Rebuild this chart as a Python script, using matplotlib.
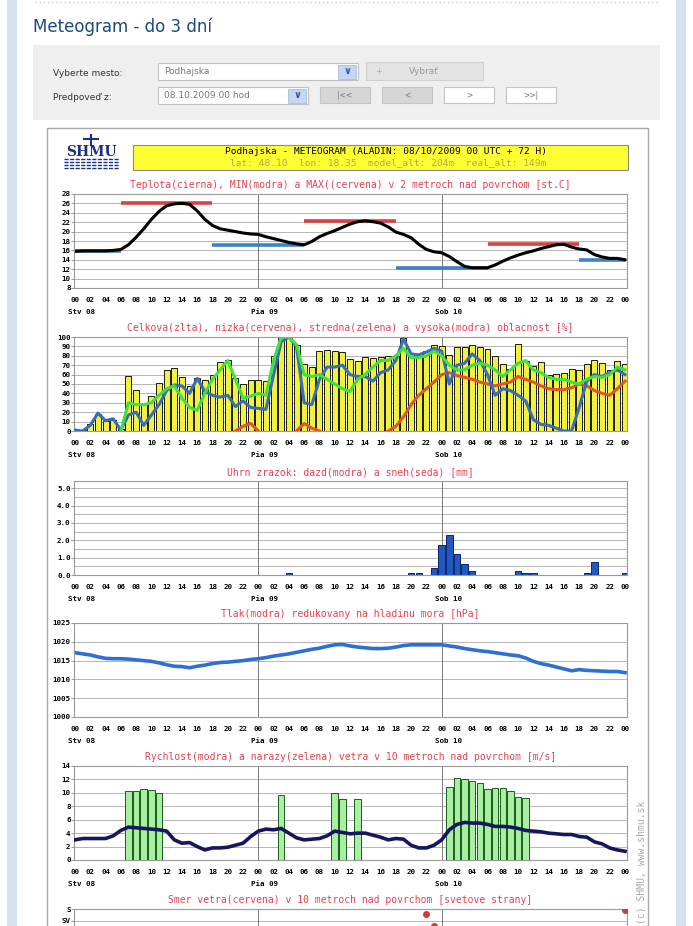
import matplotlib
matplotlib.use('Agg')
import matplotlib.pyplot as plt
import matplotlib.transforms as mtransforms
from matplotlib.patches import Rectangle

W, H = 693, 926
MONO = 'DejaVu Sans Mono'

# ---- data ----
hours = list(range(73))
tick_hours = list(range(0, 73, 2))
tick_labels = ['%02d' % (h % 24) for h in tick_hours]
day_hours = [0, 24, 48]
day_labels = ['Stv 08', 'Pia 09', 'Sob 10']

temp = [15.8, 15.9, 15.9, 15.9, 15.9, 16.0, 16.2, 17.2, 18.8, 20.6,
        22.6, 24.3, 25.5, 25.9, 26.0, 25.8, 24.4, 22.6, 21.3, 20.6,
        20.3, 20.0, 19.7, 19.5, 19.4, 18.9, 18.5, 18.1, 17.7, 17.4,
        17.2, 17.9, 18.9, 19.6, 20.2, 20.9, 21.6, 22.1, 22.3, 22.1,
        21.8, 21.0, 19.9, 19.4, 18.7, 17.3, 16.2, 15.7, 15.5, 14.7,
        13.6, 12.6, 12.3, 12.3, 12.3, 12.9, 13.7, 14.4, 15.0, 15.5,
        15.9, 16.4, 16.8, 17.2, 17.3, 16.7, 16.3, 16.1, 15.1, 14.6,
        14.3, 14.3, 14.0]
ext_start = [0, 6, 18, 30, 42, 54, 66]
ext_end = [6, 18, 30, 42, 54, 66, 72]
ext_value = [15.8, 26.0, 17.2, 22.3, 12.2, 17.4, 14.0]
ext_kind = ['min', 'max', 'min', 'max', 'min', 'max', 'min']

cloud_total = [1, 1, 7, 18, 11, 12, 2, 59, 44, 29, 37, 51, 65, 67, 57, 48, 56, 54, 60, 73,
               76, 56, 50, 54, 54, 53, 80, 100, 100, 91, 71, 68, 85, 86, 85, 84, 77, 74, 79, 78,
               79, 80, 80, 99, 82, 82, 85, 91, 90, 81, 89, 89, 91, 89, 87, 80, 71, 66, 93, 75,
               69, 73, 60, 61, 62, 66, 65, 71, 76, 72, 65, 74, 71]
N = None
cloud_low = [N] * 21 + [0, 5, 8, 0] + [N] * 4 + [0, 8, 3, 0] + [N] * 8 + \
            [0, 5, 15, 28, 38, 45, 52, 60, 62, 59, 57, 55, 52, 50, 48, 50, 52, 58, 55, 52,
             48, 45, 44, 44, 46, 50, 48, 43, 40, 38, 45, 53]
cloud_mid = [N] * 6 + [0, 30, 28, 28, 30, 38, 45, 48, 35, 25, 22, 40, 55, 65, 75, 55, 35, 37,
                       40, 38, 75, 100, 100, 92, 60, 58, 60, 55, 50, 45, 42, 55, 60, 68, 75, 75,
                       80, 88, 78, 78, 80, 85, 80, 70, 65, 65, 70, 72, 70, 65, 58, 65, 72, 75,
                       65, 62, 57, 55, 55, 52, 50, 55, 58, 57, 60, 68, 65]
cloud_high = [1, 0, 6, 19, 11, 13, 1, 17, 20, 6, 17, 28, 43, 49, 48, 40, 56, 42, 38, 36,
              38, 26, 32, 25, 24, 23, 60, 95, 100, 90, 30, 28, 55, 68, 68, 70, 60, 58, 58, 53,
              62, 65, 75, 98, 82, 81, 84, 88, 85, 50, 70, 72, 82, 75, 60, 38, 45, 43, 38, 32,
              12, 7, 6, 3, 0, 0, 25, 53, 60, 58, 62, 65, 60]

rain_hours = [28, 44, 45, 47, 48, 49, 50, 51, 52, 58, 59, 60, 67, 68, 72]
rain_mm = [0.12, 0.12, 0.12, 0.42, 1.74, 2.32, 1.22, 0.64, 0.25, 0.25, 0.13, 0.13, 0.13, 0.77, 0.13]

pressure = [1017.1, 1016.8, 1016.5, 1016.0, 1015.6, 1015.5, 1015.5, 1015.4, 1015.2, 1015.0,
            1014.8, 1014.4, 1013.9, 1013.5, 1013.4, 1013.1, 1013.5, 1013.8, 1014.2, 1014.5,
            1014.6, 1014.8, 1015.0, 1015.3, 1015.5, 1015.8, 1016.2, 1016.5, 1016.8, 1017.2,
            1017.6, 1018.0, 1018.3, 1018.8, 1019.2, 1019.3, 1018.9, 1018.6, 1018.4, 1018.2,
            1018.2, 1018.3, 1018.6, 1019.0, 1019.2, 1019.2, 1019.2, 1019.2, 1019.2, 1018.9,
            1018.6, 1018.2, 1017.9, 1017.6, 1017.4, 1017.1, 1016.8, 1016.5, 1016.3, 1015.7,
            1014.8, 1014.2, 1013.8, 1013.3, 1012.8, 1012.3, 1012.6, 1012.4, 1012.3, 1012.2,
            1012.1, 1012.1, 1011.8]

wind = [3.0, 3.2, 3.2, 3.2, 3.2, 3.6, 4.4, 4.9, 4.8, 4.7, 4.6, 4.5, 4.3, 3.0, 2.5, 2.6,
        2.0, 1.5, 1.8, 1.8, 1.9, 2.2, 2.5, 3.5, 4.3, 4.6, 4.5, 4.7, 4.0, 3.3, 3.0, 3.1,
        3.2, 3.6, 4.3, 4.1, 3.9, 4.0, 4.0, 3.7, 3.4, 3.0, 3.2, 3.1, 2.2, 1.8, 1.8, 2.2,
        3.0, 4.5, 5.3, 5.6, 5.5, 5.5, 5.3, 5.0, 5.0, 4.9, 4.7, 4.4, 4.3, 4.2, 4.0, 3.9,
        3.8, 3.8, 3.5, 3.4, 2.7, 2.4, 1.8, 1.5, 1.3]
gust_hours = [7, 8, 9, 10, 11, 27, 34, 35, 37, 49, 50, 51, 52, 53, 54, 55, 56, 57, 58, 59]
gust = [10.3, 10.3, 10.6, 10.5, 10.0, 9.7, 10.0, 9.1, 9.1, 10.9,
        12.2, 12.0, 11.8, 11.5, 10.6, 10.7, 10.7, 10.3, 9.4, 9.2]

dir_hours = [46, 47, 71, 72]
dir_deg = [20, 65, 78, 5]
dir_grid = [0, 45, 90, 135, 180, 225, 270, 315, 360]
dir_ticks = [0, 45]          # only these two labels fit in the picture
dir_labels = ['S', 'SV']

fig = plt.figure(figsize=(W / 100, H / 100), dpi=100)
fig.patch.set_facecolor('white')

# ---- page background drawn in pixel coordinates ----
bg = fig.add_axes([0, 0, 1, 1])
bg.set_xlim(0, W)
bg.set_ylim(H, 0)
bg.axis('off')

bg.add_patch(Rectangle((7, 0), 10, H, color='#d7e2f0', lw=0))
bg.add_patch(Rectangle((676, 0), 10, H, color='#d7e2f0', lw=0))
bg.plot([35, 660], [2, 2], ls=(0, (1, 2)), color='#c8c8c8', lw=1)
bg.text(33, 27, 'Meteogram - do 3 dní', fontsize=12, color='#1d4a7c', va='center',
        family='DejaVu Sans')

bg.add_patch(Rectangle((33, 45), 627, 75, color='#efefef', lw=0))
bg.text(53, 73, 'Vyberte mesto:', fontsize=6.5, color='#333333', va='center')
bg.text(53, 97, 'Predpoveď z:', fontsize=6.5, color='#333333', va='center')


def select_box(x, y, w, text):
    bg.add_patch(Rectangle((x, y), w, 17, facecolor='white', edgecolor='#c0c0c0', lw=0.8))
    bg.text(x + 6, y + 8.5, text, fontsize=6.5, color='#777777', va='center')
    bg.add_patch(Rectangle((x + w - 20, y + 1.5), 18, 14, facecolor='#c6d6ee',
                           edgecolor='#a8bddc', lw=0.6))
    bg.text(x + w - 11, y + 8.5, '∨', fontsize=7, color='#2f5aa8', ha='center', va='center',
            fontweight='bold')


select_box(158, 63, 200, 'Podhajska')
select_box(158, 87, 150, '08.10.2009 00 hod')

bg.add_patch(Rectangle((366, 62), 117, 18, facecolor='#e3e3e3', edgecolor='#d0d0d0', lw=0.8))
bg.text(379, 71, '+', fontsize=6, color='#aaaaaa', ha='center', va='center')
bg.text(424, 71, 'Vybrať', fontsize=6.5, color='#999999', ha='center', va='center')

buttons = ['|<<', '<', '>', '>>|']
button_x = [320, 382, 444, 506]
button_fill = ['#d6d6d6', '#d6d6d6', 'white', 'white']
for bx, bt, bf in zip(button_x, buttons, button_fill):
    bg.add_patch(Rectangle((bx, 87), 50, 16, facecolor=bf, edgecolor='#c4c4c4', lw=0.8))
    bg.text(bx + 25, 95, bt, fontsize=5.5, color='#777777', ha='center', va='center')

# meteogram image frame, logo and yellow header
bg.add_patch(Rectangle((47, 128), 601, 820, facecolor='white', edgecolor='#a8a8a8', lw=1))
bg.plot([91, 91], [135, 145], color='#1c2f80', lw=1.5)
bg.plot([84, 98], [139, 139], color='#1c2f80', lw=1.5)
bg.text(91, 152, 'SHMU', fontsize=10, family='DejaVu Serif', fontweight='bold',
        color='#1c2f80', ha='center', va='center')
for wy in [159, 162, 165, 168]:
    bg.plot([64, 119], [wy, wy], color='#1c2f80', lw=1, ls=(0, (3, 1)))
bg.add_patch(Rectangle((133, 145), 495, 25, facecolor='#ffff33', edgecolor='#8a8a8a', lw=0.8))
bg.text(386, 152, 'Podhajska - METEOGRAM (ALADIN: 08/10/2009 00 UTC + 72 H)', family=MONO,
        fontsize=6.8, color='black', ha='center', va='center')
bg.text(388, 163, 'lat: 48.10  lon: 18.35  model_alt: 204m  real_alt: 149m', family=MONO,
        fontsize=6.8, color='#b7a83c', ha='center', va='center')
bg.text(641, 801, '(c) SHMU, www.shmu.sk', family=MONO, fontsize=7, color='#aaaaaa',
        rotation=90, ha='center', va='top')

TITLE_RED = '#e2424f'


def panel(top, ylim, yticks, yticklabels, title, grid=None, xlabels=True):
    ax = fig.add_axes([74 / W, 1 - (top + 94) / H, 553 / W, 94 / H])
    ax.set_xlim(-0.13, 72.26)
    ax.set_ylim(*ylim)
    ax.set_xticks(tick_hours)
    if xlabels:
        ax.set_xticklabels(tick_labels, family=MONO, fontsize=5.4, fontweight='bold')
    else:
        ax.set_xticklabels([])
    ax.set_yticks(yticks)
    ax.set_yticklabels(yticklabels, family=MONO, fontsize=5.4, fontweight='bold')
    ax.tick_params(axis='x', length=0, pad=6.2)
    ax.tick_params(axis='y', length=2, width=0.6, pad=0.5, color='#888888')
    for y in (grid if grid is not None else yticks):
        ax.axhline(y, color='#b5b5b5', lw=0.7, zorder=0)
    for h in [24, 48]:
        ax.axvline(h, color='#7a7a7a', lw=0.7, zorder=0)
    for s in ax.spines.values():
        s.set_color('#9a9a9a')
        s.set_linewidth(0.8)
    if xlabels:
        tr = mtransforms.blended_transform_factory(ax.transData, ax.transAxes)
        for dh, dl in zip(day_hours, day_labels):
            ax.text(dh - 0.9, -24 / 94, dl, transform=tr, family=MONO, fontsize=5.4,
                    fontweight='bold', ha='left', va='center')
    ax.text(0.5, 1 + 9 / 94, title, transform=ax.transAxes, family=MONO, fontsize=7,
            color=TITLE_RED, ha='center', va='center')
    return ax


# temperature
t_ticks = list(range(8, 29, 2))
ax1 = panel(194, (8, 28), t_ticks, [str(v) for v in t_ticks],
            'Teplota(cierna), MIN(modra) a MAX((cervena) v 2 metroch nad povrchom [st.C]')
for s0, s1, v, k in zip(ext_start, ext_end, ext_value, ext_kind):
    ax1.plot([s0, s1], [v, v], color='#d54343' if k == 'max' else '#3b82c9', lw=2.6,
             solid_capstyle='butt')
ax1.plot(hours, temp, color='black', lw=2.2)

# clouds
c_ticks = list(range(0, 101, 10))
ax2 = panel(337, (0, 100), c_ticks, [str(v) for v in c_ticks],
            'Celkova(zlta), nizka(cervena), stredna(zelena) a vysoka(modra) oblacnost [%]')
ax2.bar(hours, cloud_total, width=0.78, color='#f2f23a', edgecolor='#1a1a1a', lw=0.7, zorder=2)
nan = float('nan')
ax2.plot(hours, [nan if v is None else v for v in cloud_low], color='#e0562a', lw=2.2, zorder=3)
ax2.plot(hours, [nan if v is None else v for v in cloud_high], color='#3a6db8', lw=2.2, zorder=3)
ax2.plot(hours, [nan if v is None else v for v in cloud_mid], color='#3fe03f', lw=2.2, zorder=4)

# precipitation
r_ticks = [0, 1, 2, 3, 4, 5]
r_grid = [0, 0.5, 1, 1.5, 2, 2.5, 3, 3.5, 4, 4.5, 5]
ax3 = panel(481, (0, 5.42), r_ticks, ['%.1f' % v for v in r_ticks],
            'Uhrn zrazok: dazd(modra) a sneh(seda) [mm]', grid=r_grid)
ax3.bar(rain_hours, rain_mm, width=0.85, color='#2258c2', edgecolor='#0e2466', lw=0.7, zorder=2)

# pressure
p_ticks = list(range(1000, 1026, 5))
ax4 = panel(623, (1000, 1025), p_ticks, [str(v) for v in p_ticks],
            'Tlak(modra) redukovany na hladinu mora [hPa]')
ax4.plot(hours, pressure, color='#2d6fd4', lw=2.6)

# wind speed and gusts
w_ticks = list(range(0, 15, 2))
ax5 = panel(766, (0, 14), w_ticks, [str(v) for v in w_ticks],
            'Rychlost(modra) a narazy(zelena) vetra v 10 metroch nad povrchom [m/s]')
ax5.bar(gust_hours, gust, width=0.85, color='#a6f0a0', edgecolor='#1f5a1f', lw=0.7, zorder=2)
ax5.plot(hours, wind, color='#16165e', lw=2.6, zorder=3)

# wind direction (panel continues below the picture's edge)
ax6 = panel(909, (360, 0), dir_ticks, dir_labels,
            'Smer vetra(cervena) v 10 metroch nad povrchom [svetove strany]',
            grid=dir_grid, xlabels=False)
ax6.plot(dir_hours, dir_deg, 'o', color='#d23a3a', ms=4, zorder=3)

fig.savefig('out.png', dpi=100)
